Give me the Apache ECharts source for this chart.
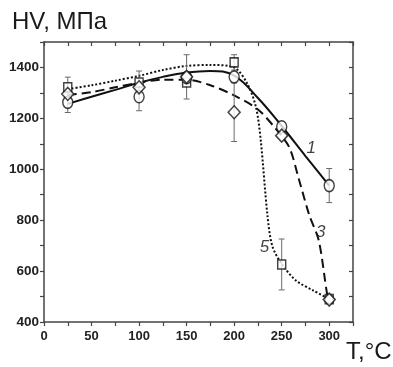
<!DOCTYPE html>
<html><head><meta charset="utf-8">
<script src="https://cdn.jsdelivr.net/npm/echarts@6/dist/echarts.min.js"></script>
<style>html,body{margin:0;padding:0;background:#fff}#c{width:393px;height:367px}</style>
</head><body><div id="c"></div>
<script>
// Measured points (T, °C) and hardness HV (MPa)
const temps = [25, 100, 150, 200, 250, 300];
const hv1 = [1263, 1285, 1360, 1363, 1167, 936];
const err1 = [40, 55, 0, 0, 0, 67];
const hv3 = [1296, 1322, 1363, 1224, 1132, 488];
const err3 = [0, 0, 87, 115, 0, 0];
const hv5 = [1322, 1341, 1341, 1420, 626, 490];
const err5 = [40, 45, 0, 30, 100, 0];

// Fitted curves
const fitT1 = [25, 50, 75, 100, 125, 150, 175, 200, 225, 250, 275, 300];
const fitV1 = [1257, 1285, 1312, 1340, 1363, 1380, 1386, 1368, 1280, 1170, 1052, 936];
const fitT3 = [25, 50, 75, 100, 125, 150, 175, 200, 225, 244, 258, 268, 279, 289, 298, 300];
const fitV3 = [1292, 1303, 1322, 1340, 1352, 1352, 1330, 1290, 1235, 1158, 1086, 962, 820, 720, 505, 490];
const fitT5 = [25, 50, 75, 100, 125, 150, 175, 200, 214, 223, 228, 235, 240, 250, 265, 283, 300];
const fitV5 = [1315, 1330, 1348, 1367, 1390, 1406, 1410, 1400, 1335, 1243, 1112, 820, 700, 628, 563, 524, 490];

// Curve labels
const curveNames = ['1', '3', '5'];
const curveLabelT = [281, 291, 232];
const curveLabelV = [1081, 753, 694];

const zip = (a, b) => a.map((v, i) => [v, b[i]]);

function errSeries(vals, errs) {
  const data = [];
  temps.forEach((t, i) => { if (errs[i] > 0) data.push([t, vals[i] - errs[i], vals[i] + errs[i]]); });
  return {
    type: 'custom', z: 3, silent: true, data: data,
    renderItem(params, api) {
      const x = api.value(0);
      const lo = api.coord([x, api.value(1)]);
      const hi = api.coord([x, api.value(2)]);
      const w = 3, st = { stroke: '#6a6a6a', lineWidth: 1 };
      return { type: 'group', children: [
        { type: 'line', shape: { x1: lo[0], y1: lo[1], x2: hi[0], y2: hi[1] }, style: st },
        { type: 'line', shape: { x1: lo[0] - w, y1: lo[1], x2: lo[0] + w, y2: lo[1] }, style: st },
        { type: 'line', shape: { x1: hi[0] - w, y1: hi[1], x2: hi[0] + w, y2: hi[1] }, style: st }
      ]};
    }
  };
}

const markerStyle = { color: '#fff', borderColor: '#111', borderWidth: 1.5 };
const axisCol = '#444';

const chart = echarts.init(document.getElementById('c'), null, { renderer: 'canvas' });
chart.setOption({
  animation: false,
  backgroundColor: '#fff',
  grid: { left: 44, right: 40, top: 42, bottom: 45 },
  xAxis: [{
    type: 'value', min: 0, max: 325, interval: 25, position: 'bottom',
    axisLine: { show: true, onZero: false, lineStyle: { color: axisCol, width: 1.5 } },
    axisTick: { show: true, inside: false, length: 4, lineStyle: { color: axisCol, width: 1.2 } },
    axisLabel: { show: true, margin: 8, color: '#222', fontFamily: 'Liberation Sans, Arial', fontWeight: 'bold', fontSize: 13,
      formatter: v => (v % 50 === 0 && v <= 300) ? String(v) : '' },
    splitLine: { show: false }
  }, {
    type: 'value', min: 0, max: 325, interval: 25, position: 'top',
    axisLine: { show: true, onZero: false, lineStyle: { color: axisCol, width: 1.5 } },
    axisTick: { show: true, inside: true, length: 4, lineStyle: { color: axisCol, width: 1.2 } },
    axisLabel: { show: false }, splitLine: { show: false }
  }],
  yAxis: [{
    type: 'value', min: 400, max: 1500, interval: 100, position: 'left',
    axisLine: { show: true, onZero: false, lineStyle: { color: axisCol, width: 1.5 } },
    axisTick: { show: true, inside: false, length: 4, lineStyle: { color: axisCol, width: 1.2 } },
    axisLabel: { show: true, margin: 5, color: '#222', fontFamily: 'Liberation Sans, Arial', fontWeight: 'bold', fontSize: 13.5,
      formatter: v => (v % 200 === 0 && v <= 1400) ? String(v) : '' },
    splitLine: { show: false }
  }, {
    type: 'value', min: 400, max: 1500, interval: 100, position: 'right',
    axisLine: { show: true, onZero: false, lineStyle: { color: axisCol, width: 1.5 } },
    axisTick: { show: true, inside: true, length: 4, lineStyle: { color: axisCol, width: 1.2 } },
    axisLabel: { show: false }, splitLine: { show: false }
  }],
  graphic: [
    { type: 'text', left: 12, top: 10, style: { text: 'HV, МПа', font: '24px "Liberation Sans", Arial', fill: '#1a1a1a' } },
    { type: 'text', left: 346, top: 340, style: { text: 'T,°C', font: '24px "Liberation Sans", Arial', fill: '#1a1a1a' } }
  ],
  series: [
    { type: 'line', name: 'fit1', data: zip(fitT1, fitV1), smooth: 0.4, showSymbol: false, symbol: 'none', z: 2,
      lineStyle: { color: '#111', width: 2, type: 'solid' } },
    { type: 'line', name: 'fit3', data: zip(fitT3, fitV3), smooth: 0.3, showSymbol: false, symbol: 'none', z: 2,
      lineStyle: { color: '#111', width: 2, type: [9, 5] } },
    { type: 'line', name: 'fit5', data: zip(fitT5, fitV5), smooth: 0.3, showSymbol: false, symbol: 'none', z: 2,
      lineStyle: { color: '#111', width: 2, type: [2, 2] } },
    errSeries(hv1, err1), errSeries(hv3, err3), errSeries(hv5, err5),
    { type: 'scatter', data: zip(temps, hv5), symbol: 'rect', symbolSize: [8, 9], z: 4, itemStyle: markerStyle },
    { type: 'scatter', data: zip(temps, hv1), symbol: 'circle', symbolSize: [10, 12], z: 5, itemStyle: markerStyle },
    { type: 'scatter', data: zip(temps, hv3), symbol: 'diamond', symbolSize: [12, 13], z: 6, itemStyle: markerStyle },
    { type: 'scatter', data: curveNames.map((n, i) => ({ value: [curveLabelT[i], curveLabelV[i]], name: n })),
      symbolSize: 0, z: 7, silent: true,
      label: { show: true, position: 'inside', formatter: p => p.name, color: '#111', fontStyle: 'italic',
        fontFamily: 'Liberation Sans, Arial', fontSize: 17 } }
  ]
});
</script></body></html>
